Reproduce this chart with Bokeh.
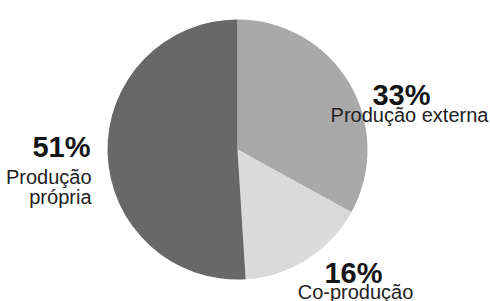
import numpy as np
from bokeh.plotting import figure
from bokeh.models import Range1d, ColumnDataSource
from bokeh.core.properties import value
from bokeh.embed import file_html
from bokeh.resources import INLINE

# ---- data ----
categories = ["Produção externa", "Co-produção", "Produção própria"]
shares = [33, 16, 51]
pct_labels = ["33%", "16%", "51%"]
colors = ["#a9a9a9", "#dadada", "#686868"]

# ---- layout (page pixels, y measured upward from the bottom of the window) ----
W, H = 490, 301
cx, cy, r = 237, 152, 130

p = figure(width=W, height=H, output_backend="svg", toolbar_location=None,
           x_range=Range1d(0, W), y_range=Range1d(0, H),
           x_axis_type=None, y_axis_type=None, min_border=0)
p.outline_line_color = None
p.grid.visible = False
p.background_fill_color = "white"

fr = np.array(shares, dtype=float) / sum(shares)
cum = np.concatenate([[0], np.cumsum(fr)])
start = np.pi / 2 - cum[:-1] * 2 * np.pi
end = np.pi / 2 - cum[1:] * 2 * np.pi

src = ColumnDataSource(dict(start=start, end=end, color=colors, cat=categories))
p.wedge(x=cx, y=cy, radius=r, start_angle="start", end_angle="end",
        direction="clock", fill_color="color", line_color=None, source=src)

font = value("Liberation Sans")

# label anchors: (pct x, pct baseline y, sub x, first sub baseline y, alignment)
label_pos = [
    (401, 301 - 94, 409, 301 - 114, "center"),
    (353, 301 - 272, 355, 301 - 291, "center"),
    (90, 301 - 146, 91, 301 - 176, "right"),
]
sub_lines = [["Produção externa"], ["Co-produção"], ["Produção", "própria"]]

for (x, y, sx, sy, align), pct, subs in zip(label_pos, pct_labels, sub_lines):
    p.text(x=[x], y=[y], text=[pct], text_font=font, text_font_style="bold",
           text_font_size="29px", text_align=align, text_baseline="alphabetic",
           text_color="#151515")
    for i, s in enumerate(subs):
        p.text(x=[sx], y=[sy - 20 * i], text=[s],
               text_font=font, text_font_size="20px", text_align=align,
               text_baseline="alphabetic", text_color="#222222")

open("out.html", "w").write(file_html(p, INLINE))
